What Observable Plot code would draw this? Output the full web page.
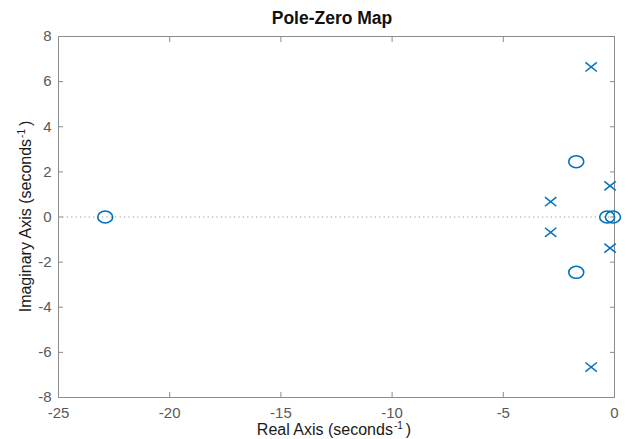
<!DOCTYPE html>
<html>
<head>
<meta charset="utf-8">
<script src="https://cdn.jsdelivr.net/npm/d3@7"></script>
<script src="https://cdn.jsdelivr.net/npm/@observablehq/plot@0.6"></script>
<style>
  html, body { margin: 0; padding: 0; background: #fff; }
  #chart svg { display: block; }
</style>
</head>
<body>
<div id="chart"></div>
<script>
// Poles (x) and zeros (o) of the system, as real / imaginary parts
const poleRe = [-1.05, -1.05, -2.87, -2.87, -0.2, -0.2];
const poleIm = [6.65, -6.65, 0.68, -0.68, 1.38, -1.38];
const zeroRe = [-22.9, -1.72, -1.72, -0.33, -0.07];
const zeroIm = [0, 2.45, -2.45, 0, 0];

const xTicks = [-25, -20, -15, -10, -5, 0];
const yTicks = [-8, -6, -4, -2, 0, 2, 4, 6, 8];

const poles = poleRe.map((re, i) => ({re, im: poleIm[i]}));
const zeros = zeroRe.map((re, i) => ({re, im: zeroIm[i]}));

const blue = "#0072BD";
const axisGray = "#8c8c8c";
const textGray = "#595959";
const font = "'Liberation Sans', Arial, Helvetica, sans-serif";

// Slightly wide marker shapes (aspect 1.25 : 1)
const ASPECT = 1.25;
const K = 0.5523;
const ellipseSymbol = {
  draw(ctx, size) {
    const r = Math.sqrt(size / Math.PI);
    const rx = r * Math.sqrt(ASPECT), ry = r / Math.sqrt(ASPECT);
    ctx.moveTo(rx, 0);
    ctx.bezierCurveTo(rx, K * ry, K * rx, ry, 0, ry);
    ctx.bezierCurveTo(-K * rx, ry, -rx, K * ry, -rx, 0);
    ctx.bezierCurveTo(-rx, -K * ry, -K * rx, -ry, 0, -ry);
    ctx.bezierCurveTo(K * rx, -ry, rx, -K * ry, rx, 0);
    ctx.closePath();
  }
};
const crossSymbol = {
  draw(ctx, size) {
    const r = Math.sqrt(size / Math.PI);
    const hx = r * Math.sqrt(ASPECT), hy = r / Math.sqrt(ASPECT);
    ctx.moveTo(-hx, -hy);
    ctx.lineTo(hx, hy);
    ctx.moveTo(-hx, hy);
    ctx.lineTo(hx, -hy);
  }
};

const W = 641, H = 439;
const M = {top: 36, right: 27, bottom: 42, left: 58};

const chart = Plot.plot({
  width: W,
  height: H,
  marginTop: M.top,
  marginRight: M.right,
  marginBottom: M.bottom,
  marginLeft: M.left,
  style: {fontFamily: font, fontSize: "15px", color: textGray, background: "#fff"},
  x: {domain: [-25, 0], ticks: xTicks, label: null},
  y: {domain: [-8, 8], ticks: yTicks, label: null},
  marks: [
    // real axis reference line
    Plot.ruleY([0], {stroke: "#9a9a9a", strokeDasharray: "1.2,3.2", strokeWidth: 1}),
    Plot.frame({stroke: axisGray, strokeWidth: 1}),
    // inward ticks on all four sides, labels only on bottom and left
    Plot.axisX(xTicks, {anchor: "bottom", tickSize: -5, tickPadding: 15, stroke: axisGray, fill: textGray, fontSize: 15, label: null}),
    Plot.axisX(xTicks, {anchor: "top", tickSize: -5, tickFormat: () => "", stroke: axisGray, label: null}),
    Plot.axisY(yTicks, {anchor: "left", tickSize: -5, tickPadding: 12, stroke: axisGray, fill: textGray, fontSize: 15, label: null}),
    Plot.axisY(yTicks, {anchor: "right", tickSize: -5, tickFormat: () => "", stroke: axisGray, label: null}),
    // zeros
    Plot.dot(zeros, {x: "re", y: "im", symbol: ellipseSymbol, r: 6.7, stroke: blue, strokeWidth: 1.6, fill: "none"}),
    // poles
    Plot.dot(poles, {x: "re", y: "im", symbol: crossSymbol, r: 5.1, stroke: blue, strokeWidth: 1.5})
  ]
});

// plain hyphen-minus in tick labels
d3.select(chart).selectAll("text").each(function () {
  const t = d3.select(this);
  if (!t.select("tspan").empty()) return;
  t.text(t.text().replace(/\u2212/g, "-"));
});

const svg = d3.select(chart);
const cx = M.left + (W - M.left - M.right) / 2;
const cy = M.top + (H - M.top - M.bottom) / 2;

svg.append("text")
  .attr("x", cx - 4)
  .attr("y", 24)
  .attr("text-anchor", "middle")
  .attr("font-family", font)
  .attr("font-weight", "bold")
  .attr("font-size", 17.5)
  .attr("fill", "#111")
  .text("Pole-Zero Map");

function axisTitle(sel, main) {
  sel.append("tspan").text(main);
  sel.append("tspan").attr("font-size", 10).attr("dy", -6).attr("dx", 1).text("-1");
  sel.append("tspan").attr("dy", 6).attr("dx", 3).text(")");
}

const xl = svg.append("text")
  .attr("x", cx - 2)
  .attr("y", 435)
  .attr("text-anchor", "middle")
  .attr("font-family", font)
  .attr("font-size", 16)
  .attr("fill", "#1a1a1a");
axisTitle(xl, "Real Axis (seconds");

const yl = svg.append("text")
  .attr("transform", `translate(31,${cy}) rotate(-90)`)
  .attr("text-anchor", "middle")
  .attr("font-family", font)
  .attr("font-size", 16)
  .attr("fill", "#1a1a1a");
axisTitle(yl, "Imaginary Axis (seconds");

document.getElementById("chart").appendChild(chart);
</script>
</body>
</html>
